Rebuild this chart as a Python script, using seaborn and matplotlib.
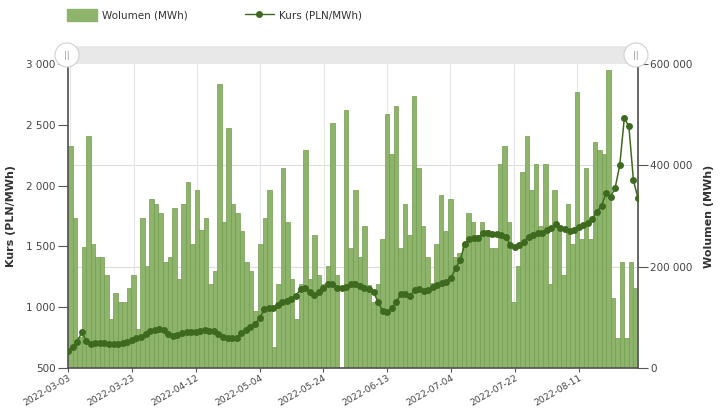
import numpy as np
import pandas as pd
import matplotlib
matplotlib.use("Agg")
import matplotlib.pyplot as plt
from matplotlib.patches import Rectangle, Ellipse, Patch
from matplotlib.lines import Line2D
from matplotlib.ticker import FuncFormatter
import seaborn as sns

# ---- data -------------------------------------------------------------
holidays = ["2022-04-18", "2022-05-03", "2022-06-16", "2022-08-15"]
dates = pd.bdate_range("2022-03-03", "2022-08-31", freq="C", holidays=holidays)
date_labels = [d.strftime("%Y-%m-%d") for d in dates]

tick_labels = ["2022-03-03", "2022-03-23", "2022-04-12", "2022-05-04", "2022-05-24",
               "2022-06-13", "2022-07-04", "2022-07-22", "2022-08-11"]

volume_k = [439, 297, 61, 238, 458, 245, 219, 219, 184, 96,
            148, 131, 131, 157, 184, 77, 297, 202, 334, 324,
            306, 210, 219, 316, 175, 324, 368, 245, 351, 272,
            297, 166, 191, 561, 289, 474, 324, 306, 270, 210,
            191, 113, 245, 297, 351, 42, 166, 395, 289, 175,
            96, 166, 430, 175, 263, 184, 166, 202, 483, 184,
            0, 510, 237, 351, 219, 281, 164, 131, 166, 255,
            501, 422, 518, 237, 324, 263, 536, 395, 281, 219,
            168, 245, 341, 270, 333, 219, 227, 246, 306, 289,
            262, 289, 272, 237, 237, 403, 439, 289, 131, 202,
            386, 457, 351, 403, 281, 403, 166, 351, 280, 184,
            324, 245, 545, 255, 395, 255, 447, 430, 423, 588,
            139, 60, 210, 60, 210, 157]

price = [640, 670, 711, 793, 725, 700, 703, 706, 706, 700,
         700, 700, 703, 717, 730, 744, 755, 782, 804, 815,
         821, 810, 782, 766, 771, 788, 799, 793, 793, 804,
         810, 804, 804, 782, 758, 749, 744, 749, 785, 812,
         840, 859, 908, 982, 991, 996, 1018, 1040, 1054, 1065,
         1095, 1150, 1155, 1128, 1100, 1122, 1155, 1188, 1193, 1161,
         1155, 1169, 1188, 1188, 1177, 1161, 1150, 1122, 1045, 969,
         958, 991, 1045, 1106, 1106, 1095, 1139, 1150, 1133, 1144,
         1166, 1183, 1199, 1210, 1243, 1320, 1388, 1517, 1561, 1566,
         1566, 1607, 1607, 1602, 1599, 1594, 1580, 1511, 1498, 1511,
         1539, 1580, 1594, 1607, 1607, 1635, 1648, 1684, 1648, 1643,
         1629, 1635, 1662, 1676, 1695, 1725, 1786, 1835, 1936, 1909,
         1983, 2169, 2556, 2487, 2043, 1895]

n = len(date_labels)
df = pd.DataFrame({"idx": np.arange(n), "date": date_labels,
                   "vol": np.array(volume_k[:n]) * 1000.0,
                   "price": price[:n]})

# ---- style ------------------------------------------------------------
sns.set_theme(style="white")
plt.rcParams["font.family"] = ["DejaVu Sans"]

BAR = "#8db46a"
BAR_EDGE = "#739c52"
LINE = "#3e6a1f"
TXT = "#444444"
AX = "#555555"

fig = plt.figure(figsize=(7.2, 4.09), dpi=100)
rect = [68 / 720, 1 - 368 / 409, 570 / 720, 304 / 409]
ax2 = fig.add_axes(rect)          # volume bars (right axis)
ax = fig.add_axes(rect)           # price line (left axis), on top
ax.patch.set_visible(False)

# bars
sns.barplot(data=df, x="idx", y="vol", ax=ax2, color=BAR, saturation=1,
            width=1.0, edgecolor=BAR_EDGE, linewidth=0.5, zorder=2)
# line
sns.lineplot(data=df, x="idx", y="price", ax=ax, color=LINE, marker="o",
             markersize=5, markeredgewidth=0, linewidth=1.1, zorder=5)

ax2.set_xlim(-0.5, n - 0.5)
ax.set_xlim(0, n - 1)
ax.set_ylim(500, 3000)
ax2.set_ylim(0, 600000)

fmt = FuncFormatter(lambda v, p: f"{int(v):,}".replace(",", " "))
ax.set_yticks(np.arange(500, 3001, 500))
ax.yaxis.set_major_formatter(fmt)
ax2.yaxis.tick_right()
ax2.yaxis.set_label_position("right")
ax2.set_yticks([0, 200000, 400000, 600000])
ax2.yaxis.set_major_formatter(fmt)

tick_pos = [date_labels.index(t) for t in tick_labels]
ax.set_xticks(tick_pos)
ax.set_xticklabels(tick_labels, rotation=30, ha="right", va="top",
                   rotation_mode="anchor")
ax2.set_xticks([])

ax.grid(False)
ax2.grid(False)
for yv in [200000, 400000]:
    ax2.axhline(yv, color="#dddddd", lw=0.8, zorder=0)
for tp in tick_pos:
    ax2.axvline(tp, color="#e6e6e6", lw=0.8, zorder=0)

for a in (ax, ax2):
    for s in a.spines.values():
        s.set_visible(False)
ax.spines["left"].set_visible(True)
ax.spines["left"].set_color(AX)
ax.spines["bottom"].set_visible(True)
ax.spines["bottom"].set_color(AX)
ax2.spines["right"].set_visible(True)
ax2.spines["right"].set_color(AX)

ax.tick_params(axis="y", left=True, length=7, width=0.8, color=AX,
               labelsize=7.5, labelcolor=TXT, pad=2)
ax.tick_params(axis="x", bottom=True, length=3, width=0.8, color=AX,
               labelsize=6.6, labelcolor=TXT, pad=1)
ax2.tick_params(axis="y", right=True, left=False, length=7, width=0.8, color=AX,
                labelsize=7.5, labelcolor=TXT, pad=2)
ax2.tick_params(axis="x", bottom=False, labelbottom=False)

ax.set_xlabel("")
ax2.set_xlabel("")
ax.set_ylabel("Kurs (PLN/MWh)", fontsize=8, fontweight="bold", color="#333333", labelpad=7)
ax2.set_ylabel("Wolumen (MWh)", fontsize=8, fontweight="bold", color="#333333",
               rotation=90, labelpad=8)

# navigator bar above plot
fig.add_artist(Rectangle((68 / 720, 1 - 64 / 409), 570 / 720, 18 / 409,
                         transform=fig.transFigure, facecolor="#e8e8e8",
                         edgecolor="none", zorder=1))
for cx in (67, 636):
    fig.add_artist(Ellipse((cx / 720, 1 - 55 / 409), 24 / 720, 24 / 409,
                           transform=fig.transFigure, facecolor="white",
                           edgecolor="#d0d0d0", lw=0.8, zorder=3))
    fig.text(cx / 720, 1 - 55 / 409, "||", ha="center", va="center",
             fontsize=6, color="#999999", zorder=4)

# legend
handles = [Patch(facecolor=BAR, edgecolor=BAR),
           Line2D([0], [0], color=LINE, lw=1.0, marker="o", markersize=4)]
fig.legend(handles, ["Wolumen (MWh)", "Kurs (PLN/MWh)"], loc="upper left",
           bbox_to_anchor=(58 / 720, 1.0), ncol=2, frameon=False,
           fontsize=7.5, handlelength=2.8, handleheight=1.4,
           handletextpad=0.5, columnspacing=5.5, labelcolor="#333333")

fig.savefig("out.png", dpi=100)
